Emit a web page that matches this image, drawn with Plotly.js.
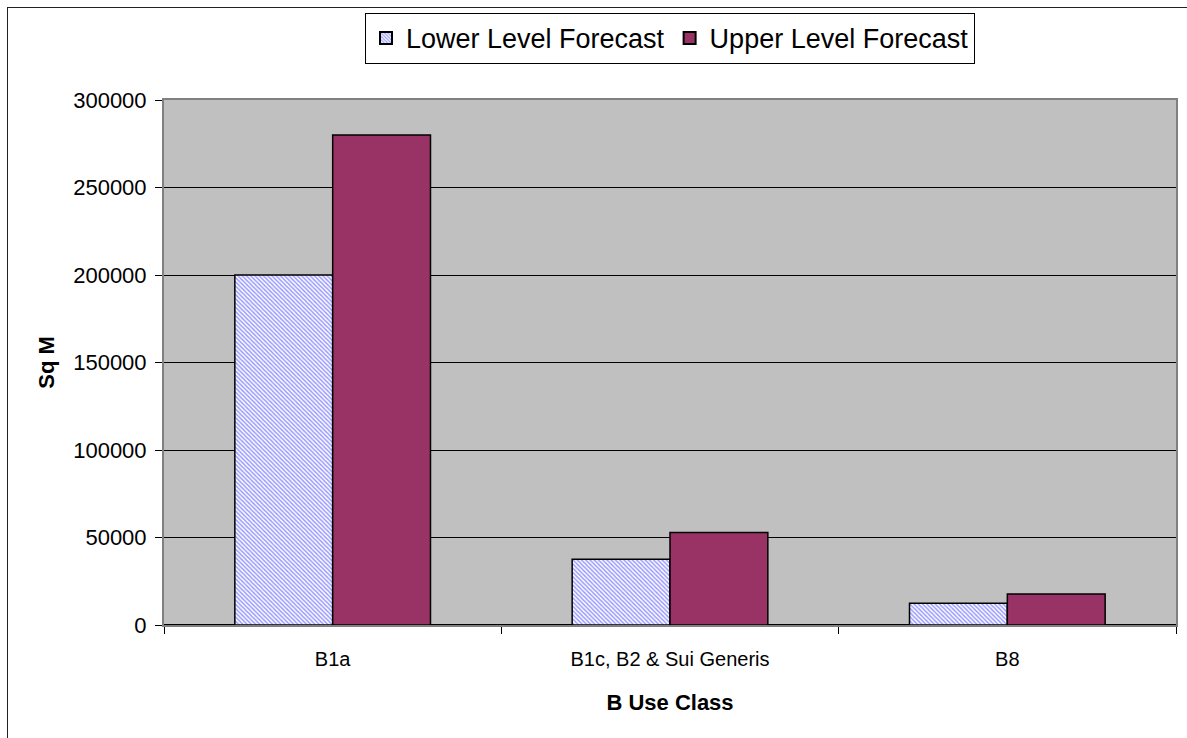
<!DOCTYPE html>
<html>
<head>
<meta charset="utf-8">
<script src="https://cdn.plot.ly/plotly-3.0.1.min.js"></script>
<style>
  html, body { margin: 0; padding: 0; background: #ffffff; }
  #chart { width: 1187px; height: 738px; }
  #frame { position: absolute; left: 7px; top: 7px; width: 1300px; height: 900px;
           border: 1.5px solid #222; pointer-events: none; }
</style>
</head>
<body>
<div id="chart"></div>
<div id="frame"></div>
<script>
const categories = ["B1a", "B1c, B2 & Sui Generis", "B8"];
const lowerForecast = [200000, 37600, 12500];
const upperForecast = [280000, 52900, 17700];
const yTicks = [0, 50000, 100000, 150000, 200000, 250000, 300000];

const font = "Liberation Sans, Arial, sans-serif";

const traces = [
  {
    type: "bar",
    name: "Lower Level Forecast",
    x: categories,
    y: lowerForecast,
    marker: {
      color: "#ffffff",
      line: { color: "#000000", width: 1.5 },
      pattern: { shape: "\\", fgcolor: "#9a9aff", bgcolor: "#ffffff", size: 3, solidity: 0.5, fillmode: "replace" }
    },
    hoverinfo: "x+y"
  },
  {
    type: "bar",
    name: "Upper Level Forecast",
    x: categories,
    y: upperForecast,
    marker: { color: "#993366", line: { color: "#000000", width: 1.5 } },
    hoverinfo: "x+y"
  }
];

const layout = {
  width: 1187,
  height: 738,
  margin: { l: 164, r: 11, t: 100, b: 113 },
  paper_bgcolor: "#ffffff",
  plot_bgcolor: "#c0c0c0",
  barmode: "group",
  bargap: 0.42,
  bargroupgap: 0,
  font: { family: font, color: "#000000", size: 20 },
  showlegend: true,
  legend: {
    orientation: "h",
    x: 0.5, xanchor: "center",
    y: 1.166, yanchor: "top",
    bgcolor: "#ffffff",
    bordercolor: "#000000",
    borderwidth: 1,
    font: { family: font, size: 27, color: "#000000" },
    traceorder: "normal",
    itemsizing: "constant"
  },
  xaxis: {
    type: "category",
    title: { text: "<b>B Use Class</b>", font: { family: font, size: 22 }, standoff: 26 },
    tickfont: { family: font, size: 20 },
    ticklabelstandoff: 15,
    showline: true, linecolor: "#808080", linewidth: 2, mirror: true,
    ticks: "outside", tickson: "boundaries", ticklen: 7, tickcolor: "#000000", tickwidth: 1,
    showgrid: false,
    zeroline: false
  },
  yaxis: {
    title: { text: "<b>Sq M</b>", font: { family: font, size: 22 }, standoff: 12 },
    range: [0, 300000],
    tickvals: yTicks,
    ticktext: yTicks.map(v => String(v)),
    tickfont: { family: font, size: 22 },
    ticklabelstandoff: 4,
    showline: true, linecolor: "#808080", linewidth: 2, mirror: true,
    ticks: "outside", ticklen: 7, tickcolor: "#000000", tickwidth: 1,
    showgrid: true, gridcolor: "#000000", gridwidth: 1,
    zeroline: true, zerolinecolor: "#000000", zerolinewidth: 1.5
  }
};

Plotly.newPlot("chart", traces, layout, { displayModeBar: false, staticPlot: true });
</script>
</body>
</html>
